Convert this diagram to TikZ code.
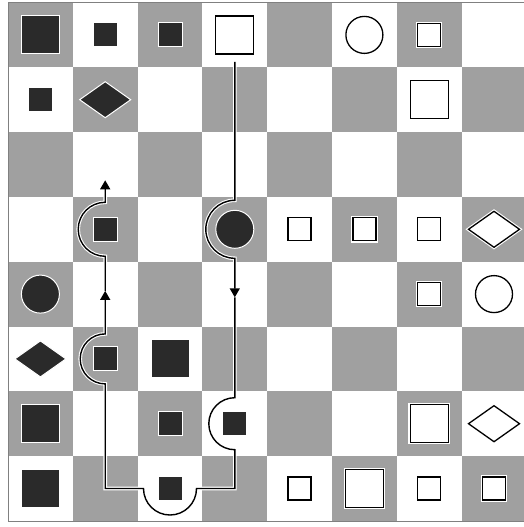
\documentclass[tikz,border=0pt]{standalone}
\usetikzlibrary{shapes.geometric,calc,arrows.meta}
\definecolor{boardgray}{HTML}{A0A0A0}
\definecolor{piececol}{HTML}{2A2A2A}
\tikzset{
  bpiece/.style={fill=piececol,draw=white,line width=1pt,inner sep=0pt,outer sep=0pt},
  wpiece/.style={fill=white,draw=black,line width=1.3pt,inner sep=0pt,outer sep=0pt,
                 preaction={draw=white,line width=3.5pt}},
  bL/.style={bpiece,rectangle,minimum size=38pt},
  bS/.style={bpiece,rectangle,minimum size=24pt},
  bC/.style={bpiece,circle,minimum size=38pt},
  bD/.style={bpiece,diamond,minimum width=51pt,minimum height=36pt},
  wL/.style={wpiece,rectangle,minimum size=38pt},
  wS/.style={wpiece,rectangle,minimum size=23pt},
  wC/.style={wpiece,circle,minimum size=37pt},
  wD/.style={wpiece,diamond,minimum width=51pt,minimum height=36pt},
  conn/.style={draw=black,line width=1.4pt,preaction={draw=white,line width=3.6pt}},
  tip/.style={-{Triangle[length=9pt,width=10pt]}}
}
\begin{document}
\begin{tikzpicture}[x=1pt,y=-1pt]
\useasboundingbox (0,0) rectangle (524,527);
\fill[white] (0,0) rectangle (524,527);
\begin{scope}
\clip (0,0) rectangle (524,527);
\foreach \r in {0,...,7}{
  \foreach \c in {0,...,7}{
    \pgfmathtruncatemacro{\cpar}{mod(\r+\c,2)}
    \ifnum\cpar=0
      \fill[boardgray] ({8+64.8*\c},{2.5+64.8*\r}) rectangle +(64.8,64.8);
    \fi
  }
}
\draw[boardgray!80!black,line width=0.8pt] (8,2.5) rectangle (526.4,520.9);
\end{scope}
\foreach \r/\c/\t in {0/0/bL,0/1/bS,0/2/bS,0/3/wL,0/5/wC,0/6/wS,
  1/0/bS,1/1/bD,1/6/wL,
  3/1/bS,3/3/bC,3/4/wS,3/5/wS,3/6/wS,3/7/wD,
  4/0/bC,4/6/wS,4/7/wC,
  5/0/bD,5/1/bS,5/2/bL,
  6/0/bL,6/2/bS,6/3/bS,6/6/wL,6/7/wD,
  7/0/bL,7/2/bS,7/4/wS,7/5/wL,7/6/wS,7/7/wS}{
  \node[\t] (p\r\c) at ({8+64.8*(\c+0.5)},{2.5+64.8*(\r+0.5)}) {};
}
\coordinate (s) at ($(p03.south)+(0,8)$);
\coordinate (da) at ($(p33)+(0,68)$);
\coordinate (ua) at ($(p51)+(0,-68)$);
\coordinate (ta) at ($(p31)+(0,-49)$);
\draw[conn,tip] (s) -- ($(p33)+(0,-29)$) arc[start angle=270,end angle=90,radius=29] -- (da);
\draw[conn,tip] (da) -- ($(p63)+(0,-26)$) arc[start angle=270,end angle=90,radius=26]
  -- (p63 |- p72) -- ($(p72)+(26.5,0)$) arc[start angle=0,end angle=180,radius=26.5]
  -- (p51 |- p72) -- ($(p51)+(0,25)$) arc[start angle=90,end angle=270,radius=25] -- (ua);
\draw[conn,tip] (ua) -- ($(p31)+(0,27)$) arc[start angle=90,end angle=270,radius=27] -- (ta);
\end{tikzpicture}
\end{document}
